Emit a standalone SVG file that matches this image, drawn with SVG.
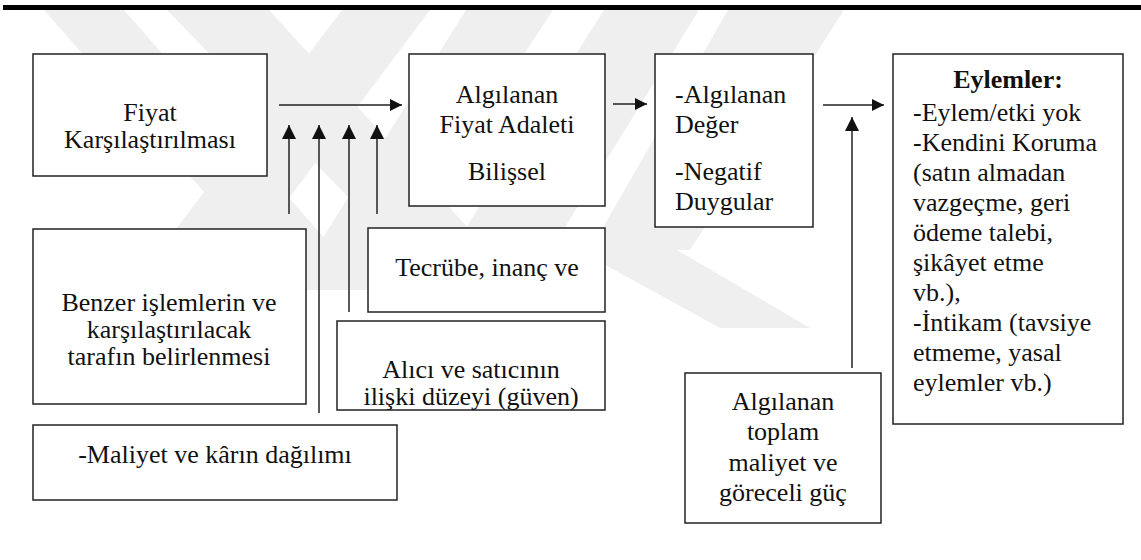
<svg xmlns="http://www.w3.org/2000/svg" width="1141" height="560" viewBox="0 0 1141 560">
<style>
.box{fill:#fff;stroke:#222;stroke-width:1.5}
.t{font-family:"Liberation Serif","Times New Roman",serif;font-size:26px;fill:#111}
.c{text-anchor:middle}
.b{font-weight:bold}
.ln{stroke:#222;stroke-width:1.5;fill:none}
.wm{fill:#efefef}
</style>
<defs>
<marker id="ah" viewBox="0 0 12 12" refX="12" refY="6" markerWidth="12" markerHeight="12" markerUnits="userSpaceOnUse" orient="auto">
<path d="M0,0 L12,6 L0,12 Z" fill="#111"/>
</marker>
<marker id="ahv" viewBox="0 0 14 14" refX="14" refY="7" markerWidth="14" markerHeight="14" markerUnits="userSpaceOnUse" orient="auto">
<path d="M0,0 L14,7 L0,14 Z" fill="#111"/>
</marker>
<clipPath id="clipAlici"><rect x="337" y="321" width="268" height="89"/></clipPath>
</defs>
<rect width="1141" height="560" fill="#fff"/>
<g id="watermark">
<polygon class="wm" points="44,10 124,10 370,290 290,290"/>
<polygon class="wm" points="167,10 269,10 470,230 380,230"/>
<polygon class="wm" points="342,10 430,10 250,250 160,250"/>
<polygon class="wm" points="466,10 553,10 370,290 290,290"/>
<polygon class="wm" points="604,10 699,10 520,300 420,300"/>
<polygon class="wm" points="728,10 844,10 690,250 590,250"/>
<polygon class="wm" points="560,240 660,240 810,328 720,328"/>
</g>
<rect x="3" y="5" width="1138" height="5" fill="#000"/>
<g id="connectors">
<line class="ln" x1="279" y1="105" x2="402" y2="105" marker-end="url(#ah)"/>
<line class="ln" x1="613" y1="104" x2="647" y2="104" marker-end="url(#ah)"/>
<line class="ln" x1="823" y1="105" x2="884" y2="105" marker-end="url(#ah)"/>
<line class="ln" x1="289" y1="214" x2="289" y2="125" marker-end="url(#ahv)"/>
<line class="ln" x1="319" y1="413" x2="319" y2="125" marker-end="url(#ahv)"/>
<line class="ln" x1="349" y1="312" x2="349" y2="125" marker-end="url(#ahv)"/>
<line class="ln" x1="377" y1="214" x2="377" y2="125" marker-end="url(#ahv)"/>
<line class="ln" x1="852" y1="368" x2="852" y2="117" marker-end="url(#ahv)"/>
</g>
<g id="n-fiyat-karsilastirma">
<rect class="box" x="33" y="54" width="234" height="122"/>
<text class="t c" x="150" y="121">Fiyat</text>
<text class="t c" x="150" y="148">Karşılaştırılması</text>
</g>
<g id="n-fiyat-adaleti">
<rect class="box" x="409" y="54" width="196" height="152"/>
<text class="t c" x="507" y="103">Algılanan</text>
<text class="t c" x="507" y="133">Fiyat Adaleti</text>
<text class="t c" x="507" y="180">Bilişsel</text>
</g>
<g id="n-deger">
<rect class="box" x="655" y="54" width="158" height="173"/>
<text class="t" x="675" y="103">-Algılanan</text>
<text class="t" x="675" y="133">Değer</text>
<text class="t" x="675" y="180">-Negatif</text>
<text class="t" x="675" y="210">Duygular</text>
</g>
<g id="n-eylemler">
<rect class="box" x="893" y="54" width="230" height="370"/>
<text class="t c b" x="1008" y="88">Eylemler:</text>
<text class="t" x="913" y="121">-Eylem/etki yok</text>
<text class="t" x="913" y="151">-Kendini Koruma</text>
<text class="t" x="913" y="181">(satın almadan</text>
<text class="t" x="913" y="211">vazgeçme, geri</text>
<text class="t" x="913" y="241">ödeme talebi,</text>
<text class="t" x="913" y="271">şikâyet etme</text>
<text class="t" x="913" y="301">vb.),</text>
<text class="t" x="913" y="331">-İntikam (tavsiye</text>
<text class="t" x="913" y="361">etmeme, yasal</text>
<text class="t" x="913" y="391">eylemler vb.)</text>
</g>
<g id="n-benzer">
<rect class="box" x="33" y="229" width="273" height="175"/>
<text class="t c" x="169" y="311">Benzer işlemlerin ve</text>
<text class="t c" x="169" y="338">karşılaştırılacak</text>
<text class="t c" x="169" y="365">tarafın belirlenmesi</text>
</g>
<g id="n-tecrube">
<rect class="box" x="368" y="228" width="237" height="84"/>
<text class="t c" x="487" y="276">Tecrübe, inanç ve</text>
</g>
<g id="n-alici">
<rect class="box" x="337" y="321" width="268" height="89"/>
<g clip-path="url(#clipAlici)">
<text class="t c" x="471" y="378">Alıcı ve satıcının</text>
<text class="t c" x="471" y="405">ilişki düzeyi (güven)</text>
</g>
</g>
<g id="n-maliyet">
<rect class="box" x="33" y="425" width="364" height="75"/>
<text class="t c" x="215" y="463">-Maliyet ve kârın dağılımı</text>
</g>
<g id="n-toplam-maliyet">
<rect class="box" x="685" y="373" width="196" height="150"/>
<text class="t c" x="783" y="410">Algılanan</text>
<text class="t c" x="783" y="440">toplam</text>
<text class="t c" x="783" y="471">maliyet ve</text>
<text class="t c" x="783" y="501">göreceli güç</text>
</g>
</svg>
